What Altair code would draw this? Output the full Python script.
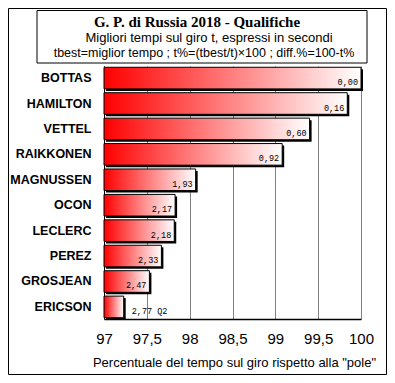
import altair as alt
import pandas as pd

# ---- data ----
drivers = ["BOTTAS", "HAMILTON", "VETTEL", "RAIKKONEN", "MAGNUSSEN",
           "OCON", "LECLERC", "PEREZ", "GROSJEAN", "ERICSON"]
diffs = [0.00, 0.16, 0.60, 0.92, 1.93, 2.17, 2.18, 2.33, 2.47, 2.77]
notes = ["", "", "", "", "", "", "", "", "", "Q2"]
x_ticks = [97, 97.5, 98, 98.5, 99, 99.5, 100]

title_txt = "G. P. di Russia 2018 - Qualifiche"
sub1_txt = "Migliori tempi sul giro t, espressi in secondi"
sub2_txt = "tbest=miglior tempo ; t%=(tbest/t)×100 ; diff.%=100-t%"
xtitle_txt = 'Percentuale del tempo sul giro rispetto alla "pole"'

df = pd.DataFrame({"pilota": drivers, "diff": diffs, "nota": notes})
df["t"] = 100 - df["diff"]
df["lab"] = [f"{d:.2f}".replace(".", ",") + (f"  {n}" if n else "")
             for d, n in zip(diffs, notes)]

W, H = 257, 253
xs = alt.Scale(domain=[97, 100], nice=False, zero=False)
ys = alt.Scale(domain=drivers, paddingInner=0.15, paddingOuter=0.05)

x_axis = alt.Axis(
    values=x_ticks, labelExpr="replace(toString(datum.value), '.', ',')",
    title=xtitle_txt, grid=True, gridColor="#808080", gridWidth=1,
    domainColor="black", domainWidth=1.5, ticks=False,
    labelFont="Liberation Sans", labelFontSize=15, labelColor="black",
    labelPadding=12, labelFlush=False, labelOverlap=False,
    titleFont="Liberation Sans", titleFontSize=13, titleFontWeight="normal",
    titleColor="black", titleX=130, titleY=47, titleBaseline="alphabetic",
    titleAlign="center",
)
y_axis = alt.Axis(
    title=None, ticks=False, domainColor="black", domainWidth=1,
    labelFont="Liberation Sans", labelFontSize=12.5, labelFontWeight="bold",
    labelColor="black", labelPadding=13,
)

base = alt.Chart(df)

shadow = base.mark_bar(color="black", xOffset=2, x2Offset=2, yOffset=2, y2Offset=2).encode(
    x=alt.X("t:Q", scale=xs, axis=x_axis),
    x2=alt.datum(97),
    y=alt.Y("pilota:N", scale=ys, sort=drivers, axis=y_axis),
)

grad = alt.Gradient(
    gradient="linear",
    stops=[alt.GradientStop(color="#ff0000", offset=0),
           alt.GradientStop(color="#ffffff", offset=1)],
    x1=0, x2=1, y1=0, y2=0,
)
bars = base.mark_bar(fill=grad, stroke="black", strokeWidth=1).encode(
    x=alt.X("t:Q", scale=xs, axis=x_axis),
    x2=alt.datum(97),
    y=alt.Y("pilota:N", scale=ys, sort=drivers, axis=y_axis),
)

inside = base.transform_filter("datum.nota == ''").mark_text(
    align="right", dx=-3, dy=4, font="Liberation Mono", fontSize=8.5, color="black"
).encode(x=alt.X("t:Q", scale=xs), y=alt.Y("pilota:N", scale=ys, sort=drivers), text="lab:N")

outside = base.transform_filter("datum.nota != ''").mark_text(
    align="left", dx=8, dy=4, font="Liberation Mono", fontSize=8.5, color="black"
).encode(x=alt.X("t:Q", scale=xs), y=alt.Y("pilota:N", scale=ys, sort=drivers), text="lab:N")

one = pd.DataFrame({"k": [0]})
deco = alt.Chart(one)

outer = deco.mark_rect(filled=False, stroke="black", strokeWidth=1).encode(
    x=alt.value(-95.5), x2=alt.value(282.5), y=alt.value(-57.5), y2=alt.value(308.5))
tbox = deco.mark_rect(filled=False, stroke="black", strokeWidth=1).encode(
    x=alt.value(-67), x2=alt.value(263), y=alt.value(-55.5), y2=alt.value(-3))

t1 = deco.mark_text(text=title_txt, font="Liberation Serif", fontSize=15, fontWeight="bold",
                    color="black", align="center", baseline="alphabetic").encode(
    x=alt.value(93), y=alt.value(-39))
t2 = deco.mark_text(text=sub1_txt, font="Liberation Sans", fontSize=13,
                    color="black", align="center", baseline="alphabetic").encode(
    x=alt.value(105), y=alt.value(-24))
t3 = deco.mark_text(text=sub2_txt, font="Liberation Sans", fontSize=12.5,
                    color="black", align="center", baseline="alphabetic").encode(
    x=alt.value(100), y=alt.value(-9))

chart = alt.layer(shadow, bars, inside, outside, outer, tbox, t1, t2, t3).properties(
    width=W, height=H,
    padding={"left": 96, "top": 58, "right": 26, "bottom": 56},
    autosize=alt.AutoSizeParams(type="none"),
    background="white",
).configure_view(stroke=None)

chart.save("out.html", embed_options={"renderer": "svg", "actions": False})
